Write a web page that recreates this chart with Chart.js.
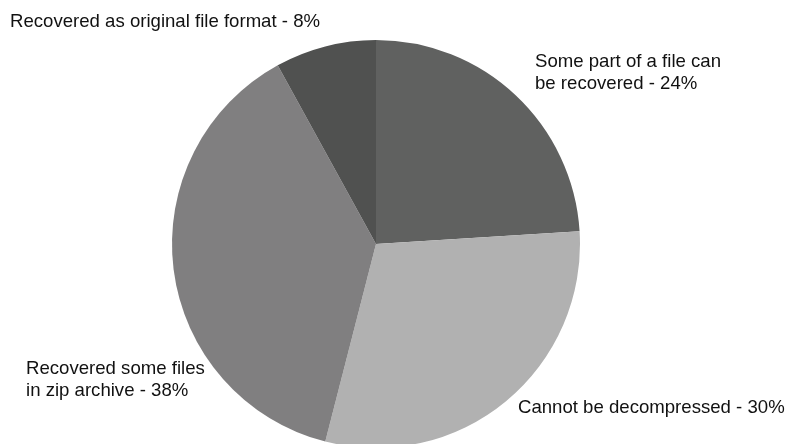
<!DOCTYPE html>
<html>
<head>
<meta charset="utf-8">
<script src="https://cdn.jsdelivr.net/npm/chart.js"></script>
<style>
  html, body { margin: 0; padding: 0; background: #fff; overflow: hidden; }
  #wrap { width: 788px; height: 448px; }
</style>
</head>
<body>
<div id="wrap"><canvas id="pieChart" width="788" height="448"></canvas></div>
<script>
// recovery outcome shares (%)
const categories = [
  'Some part of a file can be recovered',
  'Cannot be decompressed',
  'Recovered some files in zip archive',
  'Recovered as original file format'
];
const shares = [24, 30, 38, 8];
const sliceColors = ['#606160', '#b1b1b1', '#807f80', '#505150'];

// where each label sits, and how many words go on its first line
const labelSpots = [
  { x: 535, y: 66.5, firstLine: 6 },
  { x: 518, y: 413, firstLine: 99 },
  { x: 26, y: 373.5, firstLine: 3 },
  { x: 10, y: 26.5, firstLine: 99 }
];
const lineGap = 22;

const sliceLabels = {
  id: 'sliceLabels',
  afterDraw(chart) {
    const ctx = chart.ctx;
    ctx.save();
    ctx.font = '18.6px Arial, "Liberation Sans", sans-serif';
    ctx.fillStyle = '#111';
    ctx.textAlign = 'left';
    ctx.textBaseline = 'alphabetic';
    categories.forEach((cat, i) => {
      const spot = labelSpots[i];
      const words = (cat + ' - ' + shares[i] + '%').split(' ');
      const lines = [words.slice(0, spot.firstLine).join(' '), words.slice(spot.firstLine).join(' ')];
      lines.filter((ln) => ln).forEach((ln, j) => ctx.fillText(ln, spot.x, spot.y + j * lineGap));
    });
    ctx.restore();
  }
};

const ctx = document.getElementById('pieChart').getContext('2d');
new Chart(ctx, {
  type: 'pie',
  data: {
    labels: categories,
    datasets: [{
      data: shares,
      backgroundColor: sliceColors,
      borderWidth: 0,
      hoverOffset: 0
    }]
  },
  options: {
    responsive: false,
    animation: false,
    layout: { padding: { top: 40, bottom: 0, left: 0, right: 36 } },
    plugins: {
      legend: { display: false },
      tooltip: { enabled: false }
    }
  },
  plugins: [sliceLabels]
});
</script>
</body>
</html>
